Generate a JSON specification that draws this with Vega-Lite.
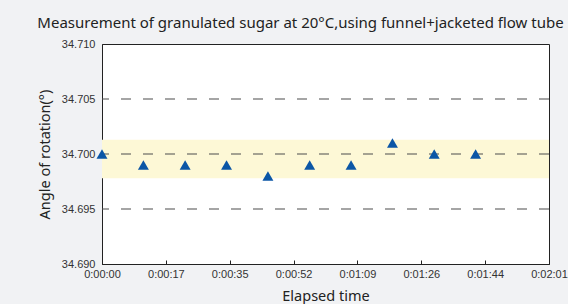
{
  "$schema": "https://vega.github.io/schema/vega-lite/v6.json",
  "width": 447,
  "height": 220,
  "autosize": {"type": "none"},
  "padding": {"left": 102, "top": 44, "right": 19, "bottom": 40},
  "background": "#f1f2f4",
  "title": {
    "text": "Measurement of granulated sugar at 20°C,using funnel+jacketed flow tube",
    "anchor": "middle",
    "dx": -25,
    "offset": -5,
    "baseline": "alphabetic",
    "font": "Noto Sans",
    "fontSize": 15,
    "fontWeight": "normal",
    "color": "#222222"
  },
  "config": {
    "view": {"fill": "white", "stroke": "#222222", "strokeWidth": 1},
    "axis": {
      "labelFont": "Liberation Sans",
      "labelFontSize": 11,
      "labelColor": "#333333",
      "titleFont": "Noto Sans",
      "titleFontSize": 14.5,
      "titleFontWeight": "normal",
      "titleColor": "#222222",
      "domainColor": "#222222",
      "tickColor": "#222222",
      "grid": false
    }
  },
  "datasets": {
    "band": [{"lo": 34.6978, "hi": 34.7013}],
    "grid": [{"v": 34.695}, {"v": 34.7}, {"v": 34.705}],
    "points": [
      {"t": 0, "angle": 34.7},
      {"t": 11.2, "angle": 34.699},
      {"t": 22.5, "angle": 34.699},
      {"t": 33.7, "angle": 34.699},
      {"t": 44.9, "angle": 34.698},
      {"t": 56.2, "angle": 34.699},
      {"t": 67.4, "angle": 34.699},
      {"t": 78.6, "angle": 34.701},
      {"t": 89.9, "angle": 34.7},
      {"t": 101.1, "angle": 34.7}
    ]
  },
  "layer": [
    {
      "data": {"name": "band"},
      "mark": {"type": "rect", "color": "#fdf8d6"},
      "encoding": {
        "y": {"field": "lo", "type": "quantitative", "scale": {"domain": [34.69, 34.71], "zero": false, "nice": false}},
        "y2": {"field": "hi"}
      }
    },
    {
      "data": {"name": "grid"},
      "mark": {"type": "rule", "color": "#4d4d4d", "strokeWidth": 1.2, "strokeDash": [10, 12]},
      "encoding": {
        "y": {"field": "v", "type": "quantitative", "scale": {"domain": [34.69, 34.71], "zero": false, "nice": false}}
      }
    },
    {
      "data": {"name": "points"},
      "mark": {"type": "point", "shape": "triangle-up", "filled": true, "size": 120, "color": "#0b56a6", "opacity": 1},
      "encoding": {
        "x": {
          "field": "t",
          "type": "quantitative",
          "scale": {"domain": [0, 120.96], "nice": false, "zero": false},
          "axis": {
            "title": "Elapsed time",
            "values": [0, 17.28, 34.56, 51.84, 69.12, 86.4, 103.68, 120.96],
            "labelExpr": "utcFormat(round(datum.value)*1000, '%-H:%M:%S')",
            "tickSize": -4,
            "labelPadding": 8,
            "labelFlush": false,
            "labelOverlap": false,
            "titlePadding": 10
          }
        },
        "y": {
          "field": "angle",
          "type": "quantitative",
          "scale": {"domain": [34.69, 34.71], "zero": false, "nice": false},
          "axis": {
            "title": "Angle of rotation(°)",
            "values": [34.69, 34.695, 34.7, 34.705, 34.71],
            "format": ".3f",
            "ticks": false,
            "labelPadding": 7,
            "labelFlush": false,
            "labelOverlap": false,
            "titlePadding": 9
          }
        }
      }
    }
  ]
}
